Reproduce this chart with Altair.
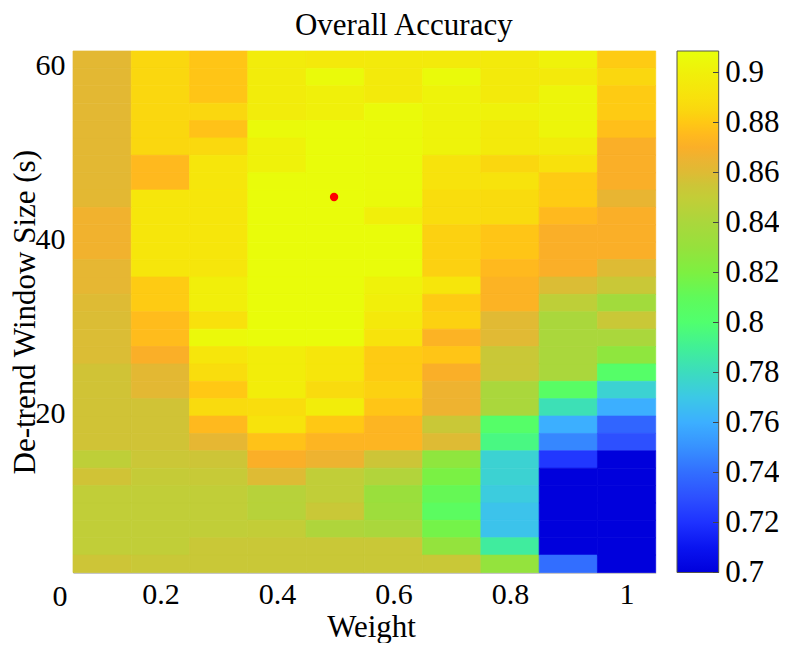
import altair as alt
import pandas as pd

FONT = "Liberation Serif"
weights = [0.1, 0.2, 0.3, 0.4, 0.5, 0.6, 0.7, 0.8, 0.9, 1.0]
windows = [61, 59, 57, 55, 53, 51, 49, 47, 45, 43, 41, 39, 37, 35, 33, 31, 29, 27, 25, 23, 21, 19, 17, 15, 13, 11, 9, 7, 5, 3]

w01 = [.862,.862,.862,.862,.862,.862,.862,.862,.862,.867,.867,.867,.863,.863,.860,.859,.859,.859,.856,.856,.856,.856,.856,.848,.856,.849,.849,.849,.849,.855]
w02 = [.885,.885,.885,.885,.885,.885,.875,.875,.893,.893,.893,.893,.893,.881,.881,.876,.876,.870,.862,.862,.856,.856,.856,.854,.851,.849,.849,.849,.849,.853]
w03 = [.879,.879,.879,.885,.878,.886,.893,.893,.893,.893,.893,.893,.893,.899,.899,.890,.905,.893,.888,.880,.887,.875,.863,.855,.852,.849,.849,.849,.853,.853]
w04 = [.897,.897,.897,.897,.906,.901,.901,.907,.907,.907,.907,.907,.907,.907,.907,.907,.907,.898,.898,.898,.888,.891,.878,.870,.860,.845,.845,.850,.853,.853]
w05 = [.895,.906,.900,.900,.907,.907,.907,.907,.907,.907,.907,.907,.907,.907,.907,.907,.907,.893,.893,.887,.898,.880,.873,.866,.849,.849,.853,.842,.853,.853]
w06 = [.896,.896,.896,.906,.906,.906,.906,.906,.906,.899,.907,.907,.907,.901,.899,.895,.891,.881,.881,.883,.879,.873,.873,.855,.843,.832,.834,.840,.853,.853]
w07 = [.896,.906,.902,.902,.902,.902,.891,.891,.888,.888,.883,.883,.883,.893,.881,.883,.872,.879,.870,.866,.866,.853,.860,.827,.819,.812,.807,.817,.829,.853]
w08 = [.896,.896,.896,.901,.896,.896,.885,.891,.887,.887,.879,.879,.875,.872,.872,.861,.861,.853,.853,.840,.840,.803,.795,.775,.775,.772,.768,.768,.788,.829]
w09 = [.901,.896,.903,.903,.903,.897,.890,.881,.881,.875,.870,.870,.870,.859,.848,.840,.840,.840,.840,.805,.782,.760,.747,.722,.700,.700,.700,.700,.700,.740]
w10 = [.881,.885,.881,.881,.877,.870,.870,.870,.864,.870,.870,.870,.860,.853,.836,.853,.840,.827,.803,.775,.760,.737,.730,.700,.700,.700,.700,.700,.700,.700]
columns = [w01, w02, w03, w04, w05, w06, w07, w08, w09, w10]

cmap_values = [.70,.71,.72,.73,.74,.75,.76,.77,.78,.79,.80,.81,.82,.83,.84,.85,.855,.86,.865,.87,.875,.88,.885,.89,.90,.9086]
cmap_colors = ["#0000dc","#0a14f0","#1e32ff","#2d50ff","#326eff","#3791ff","#3cafff","#3cc8e6","#3cdcbe","#41f096",
               "#50ff6e","#5ffa5a","#7df041","#96e13c","#aad73c","#c3cd37","#cdc537","#debb34","#ebb432","#faaf28",
               "#ffb91e","#ffc814","#fad70f","#f8e10c","#f0f00a","#e8ff0a"]
colorbar_ticks = [.7,.72,.74,.76,.78,.8,.82,.84,.86,.88,.9]
x_ticks = [.2,.4,.6,.8,1.0]
y_ticks = [20,40,60]
best_point = {"w": 0.498, "s": 45.2}

df = pd.DataFrame([
    {"w": w, "s": s, "acc": col[i]}
    for w, col in zip(weights, columns) for i, s in enumerate(windows)
])

x_scale = alt.Scale(domain=[0.05, 1.05], nice=False, zero=False)
y_scale = alt.Scale(domain=[2, 62], nice=False, zero=False)
color_scale = alt.Scale(domain=cmap_values, range=cmap_colors, clamp=True, interpolate="rgb")

heat = alt.Chart(df).transform_calculate(
    x0="datum.w-0.05", x1="datum.w+0.05", y0="datum.s-1", y1="datum.s+1"
).mark_rect(strokeWidth=0.7).encode(
    x=alt.X("x0:Q", scale=x_scale, title="Weight",
            axis=alt.Axis(values=x_ticks, format="~g", ticks=False, grid=False, labelFont=FONT, labelFontSize=30,
                          labelColor="black", labelPadding=7, titleFont=FONT, titleFontSize=31, titleFontWeight="normal",
                          titleColor="black", titlePadding=3, titleX=298, domainColor="black", domainOpacity=0.45, labelFlush=False)),
    x2="x1:Q",
    y=alt.Y("y0:Q", scale=y_scale, title="De-trend Window Size (s)",
            axis=alt.Axis(values=y_ticks, ticks=False, grid=False, labelFont=FONT, labelFontSize=30, labelColor="black",
                          labelPadding=8, labelOffset=-3, titleFont=FONT, titleFontSize=31, titleFontWeight="normal",
                          titleColor="black", titlePadding=-6, domainColor="black", domainOpacity=0.45)),
    y2="y1:Q",
    color=alt.Color("acc:Q", scale=color_scale, legend=None),
    stroke=alt.Color("acc:Q", scale=color_scale, legend=None),
)

dot = alt.Chart(pd.DataFrame([best_point])).mark_point(filled=True, color="#ff0000", opacity=1, size=70).encode(
    x=alt.X("w:Q", scale=x_scale), y=alt.Y("s:Q", scale=y_scale))

zero_label = alt.Chart(pd.DataFrame({"label": ["0"]})).mark_text(
    font=FONT, fontSize=30, color="black", dx=-13, dy=24, align="center", baseline="middle"
).encode(x=alt.datum(0.05, scale=x_scale), y=alt.datum(2, scale=y_scale), text="label:N")

main = alt.layer(heat, dot, zero_label).properties(
    width=582.7, height=521.5,
    title=alt.TitleParams("Overall Accuracy", font=FONT, fontSize=31, fontWeight="normal", color="black",
                          anchor="middle", offset=8.5, dx=39.5))

bar_scale = alt.Scale(domain=[0.7, 0.9086], nice=False, zero=False)
span = cmap_values[-1] - cmap_values[0]
stops = [alt.GradientStop(offset=(v - cmap_values[0]) / span, color=c) for v, c in zip(cmap_values, cmap_colors)]
bar_axis = alt.Axis(orient="right", values=colorbar_ticks, format="~g", ticks=False, domain=False, grid=False,
                    labelFont=FONT, labelFontSize=31, labelColor="black", labelPadding=6)
bar = alt.Chart(pd.DataFrame({"a": [0.7], "b": [0.9086]})).mark_rect(
    color=alt.LinearGradient(gradient="linear", x1=0, x2=0, y1=1, y2=0, stops=stops),
    stroke="#55554a", strokeWidth=1
).encode(
    x=alt.value(0), x2=alt.value(41.7),
    y=alt.Y("a:Q", scale=bar_scale, title=None, axis=bar_axis),
    y2="b:Q",
)
bar_ticks = alt.Chart(pd.DataFrame({"v": colorbar_ticks})).mark_rule(color="#444444", strokeWidth=1).encode(
    y=alt.Y("v:Q", scale=bar_scale, title=None, axis=bar_axis), x=alt.value(36), x2=alt.value(41.7))
colorbar = alt.layer(bar, bar_ticks).properties(width=41.7, height=521.5)

chart = alt.hconcat(main, colorbar, spacing=19).resolve_scale(color="independent", stroke="independent").configure_view(stroke=None).properties(padding={"left": 1, "top": 1, "right": 0, "bottom": 0})
chart.save("out.html", embed_options={"renderer": "svg", "actions": False})
